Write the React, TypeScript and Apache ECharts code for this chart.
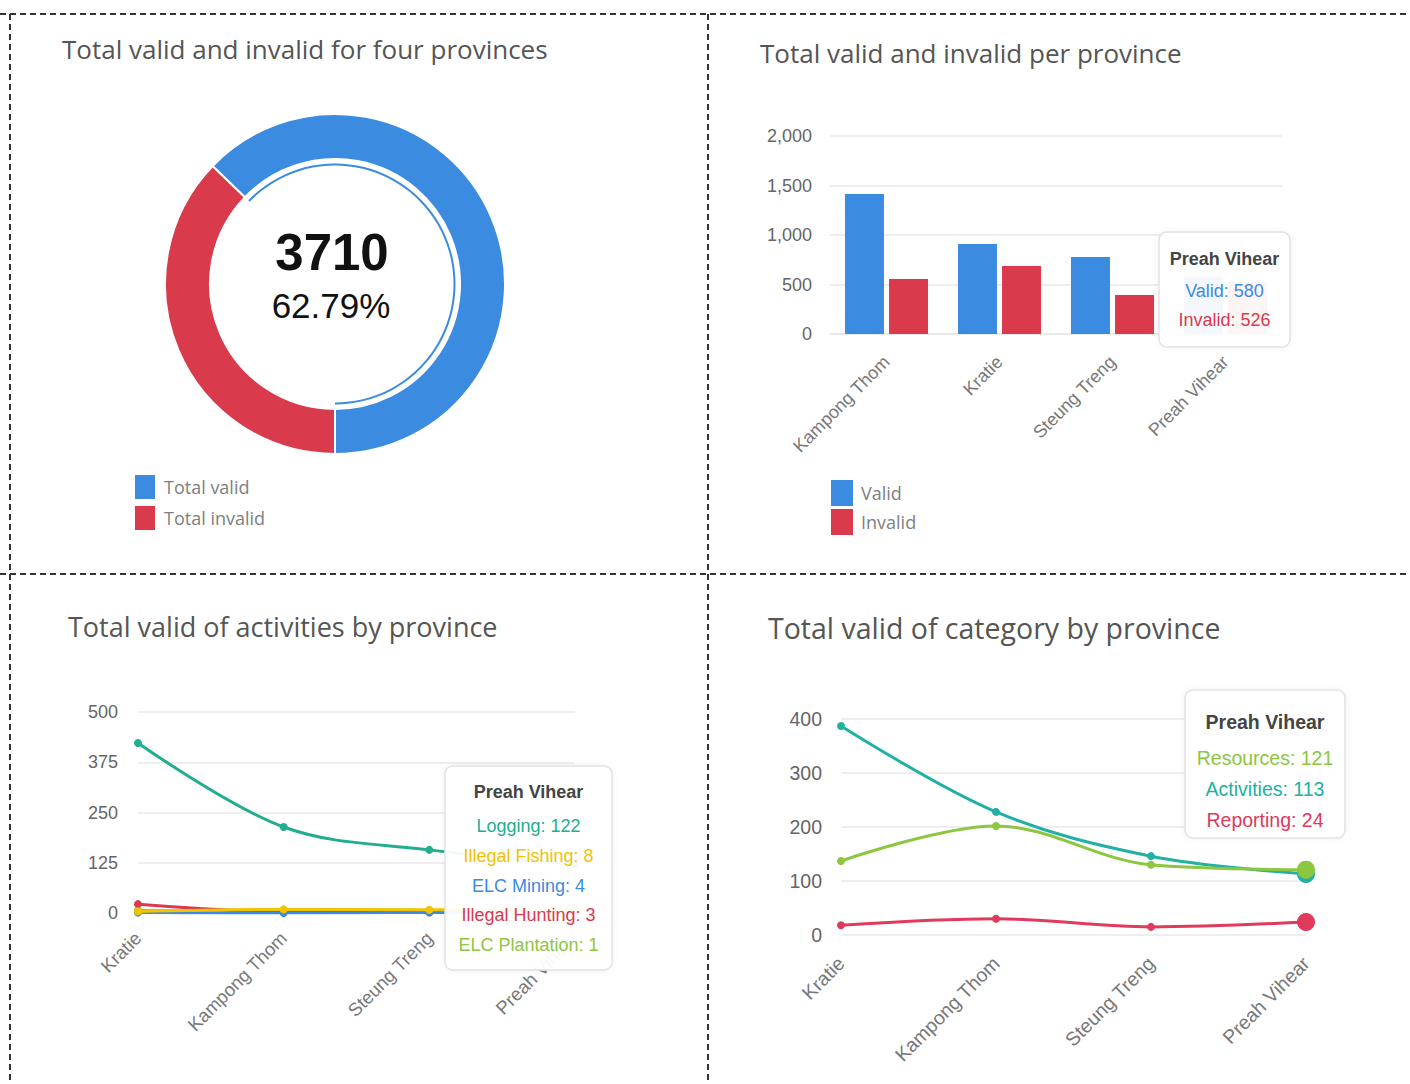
import React, { useEffect, useRef } from "react";
import * as echarts from "echarts";

// ---------- data ----------
const donutLabels = ["Total valid", "Total invalid"];
const donutValues = [3710, 2199];

const barProvinces = ["Kampong Thom", "Kratie", "Steung Treng", "Preah Vihear"];
const validValues = [1414, 909, 778, 580];
const invalidValues = [556, 687, 394, 526];
const barTicks = [0, 500, 1000, 1500, 2000];

const lineProvinces = ["Kratie", "Kampong Thom", "Steung Treng", "Preah Vihear"];
const activityNames = ["Logging", "Illegal Fishing", "ELC Mining", "Illegal Hunting", "ELC Plantation"];
const logging = [423, 214, 157, 122];
const illegalFishing = [4, 9, 8, 8];
const elcMining = [1, 0, 2, 4];
const illegalHunting = [22, 3, 2, 3];
const elcPlantation = [7, 2, 1, 1];
const activityTicks = [0, 125, 250, 375, 500];

const categoryNames = ["Resources", "Activities", "Reporting"];
const resources = [137, 202, 130, 121];
const activities = [387, 228, 146, 113];
const reporting = [18, 30, 15, 24];
const categoryTicks = [0, 100, 200, 300, 400];

// ---------- styles ----------
const BLUE = "#3b8be0";
const RED = "#d93a4c";
const TEAL = "#22ad90";
const YELLOW = "#f2c300";
const GREEN = "#8dc63f";
const CAT_TEAL = "#20b1a4";
const CAT_RED = "#e03a5c";
const SANS = "Liberation Sans, Arial, Helvetica, sans-serif";
const TITLE_FONT = "Open Sans, sans-serif";

const activityColors = [TEAL, YELLOW, BLUE, RED, GREEN];
const activitySeries = [logging, illegalFishing, elcMining, illegalHunting, elcPlantation];
const categoryColors = [GREEN, CAT_TEAL, CAT_RED];
const categorySeries = [resources, activities, reporting];

function tooltipBox(
  x: number, y: number, w: number, h: number,
  title: string, titleY: number,
  lines: { text: string; color: string; y: number }[],
  titleSize: number, fontSize: number
) {
  const cx = x + w / 2;
  return {
    type: "group",
    z: 100,
    children: [
      {
        type: "rect",
        z: 100,
        shape: { x, y, width: w, height: h, r: 8 },
        style: {
          fill: "rgba(255,255,255,0.94)",
          stroke: "#e2e2e2",
          lineWidth: 1.5,
          shadowBlur: 6,
          shadowColor: "rgba(0,0,0,0.06)",
        },
      },
      {
        type: "text",
        z: 101,
        x: cx,
        y: titleY,
        style: {
          text: title,
          fill: "#444",
          font: `bold ${titleSize}px ${SANS}`,
          textAlign: "center",
          textVerticalAlign: "middle",
        },
      },
      ...lines.map((l) => ({
        type: "text",
        z: 101,
        x: cx,
        y: l.y,
        style: {
          text: l.text,
          fill: l.color,
          font: `${fontSize}px ${SANS}`,
          textAlign: "center",
          textVerticalAlign: "middle",
        },
      })),
    ],
  };
}

function dashed(x1: number, y1: number, x2: number, y2: number) {
  return {
    type: "line",
    shape: { x1, y1, x2, y2 },
    style: { stroke: "#333", lineWidth: 2, lineDash: [6, 4] },
    z: 50,
  };
}

export default function App() {
  const ref = useRef<HTMLDivElement>(null);

  useEffect(() => {
    if (!ref.current) return;
    const chart = echarts.init(ref.current, undefined, { renderer: "svg" });

    const totalValid = donutValues[0];
    const total = donutValues[0] + donutValues[1];
    const pct = ((totalValid / total) * 100).toFixed(2) + "%";

    const last = barProvinces.length - 1;
    const lastL = lineProvinces.length - 1;

    const titleStyle = (size: number) => ({ fontFamily: TITLE_FONT, fontSize: size, fontWeight: "normal", color: "#555" });
    const yLabel = { fontFamily: SANS, fontSize: 18, color: "#666" };
    const xLabel = { fontFamily: SANS, fontSize: 18, color: "#777", rotate: 45 };
    const gridLine = { lineStyle: { color: "#e8e8e8", width: 1.5 } };
    const legendText = { fontFamily: TITLE_FONT, fontSize: 18, color: "#808080", padding: [0, 0, 0, 3] };

    const option: any = {
      animation: false,
      backgroundColor: "#fff",
      title: [
        { text: "Total valid and invalid for four provinces", left: 57, top: 31, textStyle: titleStyle(26) },
        { text: "Total valid and invalid per province", left: 755, top: 35, textStyle: titleStyle(26) },
        { text: "Total valid of activities by province", left: 63, top: 608, textStyle: titleStyle(27) },
        { text: "Total valid of category by province", left: 763, top: 608, textStyle: titleStyle(28.5) },
      ],
      legend: [
        {
          data: donutLabels,
          orient: "vertical",
          left: 128,
          top: 468,
          icon: "rect",
          itemWidth: 22,
          itemHeight: 26,
          itemGap: 3,
          textStyle: legendText,
          selectedMode: false,
        },
        {
          data: ["Valid", "Invalid"],
          orient: "vertical",
          left: 826,
          top: 475,
          icon: "rect",
          itemWidth: 22,
          itemHeight: 26,
          itemGap: 3,
          textStyle: legendText,
          selectedMode: false,
        },
      ],
      grid: [
        { left: 830, right: 128, top: 136, bottom: 750, containLabel: false },
        { left: 138, right: 835, top: 712, bottom: 171, containLabel: false },
        { left: 841, right: 104, top: 719, bottom: 149, containLabel: false },
      ],
      xAxis: [
        {
          type: "category",
          gridIndex: 0,
          data: barProvinces,
          axisLine: { lineStyle: { color: "#e8e8e8", width: 1.5 } },
          axisTick: { show: false },
          axisLabel: { ...xLabel, margin: 25, interval: 0 },
        },
        {
          type: "category",
          gridIndex: 1,
          data: lineProvinces,
          boundaryGap: false,
          axisLine: { show: false },
          axisTick: { show: false },
          axisLabel: { ...xLabel, fontSize: 18.5, margin: 22, interval: 0 },
        },
        {
          type: "category",
          gridIndex: 2,
          data: lineProvinces,
          boundaryGap: false,
          axisLine: { show: false },
          axisTick: { show: false },
          axisLabel: { ...xLabel, fontSize: 19.5, margin: 25, interval: 0 },
        },
      ],
      yAxis: [
        {
          type: "value",
          gridIndex: 0,
          min: barTicks[0],
          max: barTicks[barTicks.length - 1],
          interval: barTicks[1] - barTicks[0],
          axisLine: { show: false },
          axisTick: { show: false },
          splitLine: gridLine,
          axisLabel: { ...yLabel, margin: 18, formatter: (v: number) => v.toLocaleString("en-US") },
        },
        {
          type: "value",
          gridIndex: 1,
          min: activityTicks[0],
          max: activityTicks[activityTicks.length - 1],
          interval: activityTicks[1] - activityTicks[0],
          axisLine: { show: false },
          axisTick: { show: false },
          splitLine: gridLine,
          axisLabel: { ...yLabel, margin: 20 },
        },
        {
          type: "value",
          gridIndex: 2,
          min: categoryTicks[0],
          max: categoryTicks[categoryTicks.length - 1],
          interval: categoryTicks[1] - categoryTicks[0],
          axisLine: { show: false },
          axisTick: { show: false },
          splitLine: gridLine,
          axisLabel: { ...yLabel, fontSize: 19.5, margin: 19 },
        },
      ],
      series: [
        {
          type: "pie",
          name: "donut",
          center: [335, 284],
          radius: [125, 170],
          startAngle: -90,
          clockwise: true,
          label: { show: false },
          labelLine: { show: false },
          silent: true,
          itemStyle: { borderColor: "#fff", borderWidth: 2 },
          data: [
            { name: donutLabels[1], value: donutValues[1], itemStyle: { color: RED } },
            { name: donutLabels[0], value: donutValues[0], itemStyle: { color: BLUE } },
          ],
        },
        {
          type: "pie",
          name: "inner",
          center: [335, 284],
          radius: [118.5, 120.5],
          startAngle: -90,
          clockwise: true,
          label: { show: false },
          labelLine: { show: false },
          silent: true,
          data: [
            { name: "inner-invalid", value: donutValues[1], itemStyle: { color: "rgba(0,0,0,0)" } },
            { name: "inner-valid", value: donutValues[0], itemStyle: { color: BLUE } },
          ],
        },
        {
          type: "bar",
          name: "Valid",
          xAxisIndex: 0,
          yAxisIndex: 0,
          data: validValues,
          barWidth: 39,
          barGap: "13%",
          itemStyle: { color: BLUE },
        },
        {
          type: "bar",
          name: "Invalid",
          xAxisIndex: 0,
          yAxisIndex: 0,
          data: invalidValues,
          barWidth: 39,
          barGap: "13%",
          itemStyle: { color: RED },
        },
        ...activitySeries.map((d, i) => ({
          type: "line",
          name: activityNames[i],
          xAxisIndex: 1,
          yAxisIndex: 1,
          data: d,
          smooth: 0.35,
          symbol: "circle",
          symbolSize: 8,
          lineStyle: { color: activityColors[i], width: 3 },
          itemStyle: { color: activityColors[i] },
          z: 10 - i,
        })),
        ...[1, 0, 2].map((i) => ({
          type: "line",
          name: categoryNames[i],
          xAxisIndex: 2,
          yAxisIndex: 2,
          data: categorySeries[i].map((v, j) =>
            j === lastL ? { value: v, symbolSize: 18 } : v
          ),
          smooth: 0.35,
          symbol: "circle",
          symbolSize: 8,
          lineStyle: { color: categoryColors[i], width: 3 },
          itemStyle: { color: categoryColors[i] },
        })),
      ],
      graphic: [
        dashed(0, 14, 1410, 14),
        dashed(10, 14, 10, 1084),
        dashed(0, 574, 1410, 574),
        dashed(708, 14, 708, 1084),
        {
          type: "text",
          x: 332,
          y: 252,
          style: {
            text: String(totalValid),
            fill: "#111",
            font: `bold 51px ${SANS}`,
            textAlign: "center",
            textVerticalAlign: "middle",
          },
        },
        {
          type: "text",
          x: 331,
          y: 305,
          style: {
            text: pct,
            fill: "#111",
            font: `35px ${SANS}`,
            textAlign: "center",
            textVerticalAlign: "middle",
          },
        },
        tooltipBox(1159, 232, 131, 115, barProvinces[last], 259, [
          { text: `Valid: ${validValues[last]}`, color: BLUE, y: 291 },
          { text: `Invalid: ${invalidValues[last]}`, color: RED, y: 320 },
        ], 18, 18),
        tooltipBox(445, 766, 167, 204, lineProvinces[lastL], 792,
          activityNames.map((n, i) => ({
            text: `${n}: ${activitySeries[i][lastL]}`,
            color: activityColors[i],
            y: 826 + i * 29.8,
          })), 18, 18),
        tooltipBox(1185, 690, 160, 148, lineProvinces[lastL], 722,
          categoryNames.map((n, i) => ({
            text: `${n}: ${categorySeries[i][lastL]}`,
            color: categoryColors[i],
            y: 758 + i * 31,
          })), 19.5, 19.5),
      ],
    };

    chart.setOption(option);
    return () => chart.dispose();
  }, []);

  return (
    <div
      ref={ref}
      style={{ position: "fixed", left: 0, top: 0, width: 1410, height: 1084, background: "#fff" }}
    />
  );
}
